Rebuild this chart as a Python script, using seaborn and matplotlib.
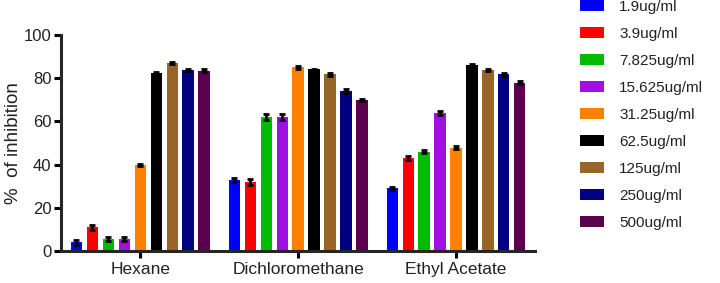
import numpy as np
import pandas as pd
import matplotlib
matplotlib.use("Agg")
import matplotlib.pyplot as plt
import seaborn as sns

solvents = ["Hexane", "Dichloromethane", "Ethyl Acetate"]
concs = ["1.9ug/ml", "3.9ug/ml", "7.825ug/ml", "15.625ug/ml", "31.25ug/ml",
         "62.5ug/ml", "125ug/ml", "250ug/ml", "500ug/ml"]
hexane = [4, 11, 5.5, 5.5, 40, 82.5, 87, 83.8, 83.6]
dichloromethane = [33, 32, 62, 62, 85, 84.1, 81.8, 74, 70]
ethyl_acetate = [29, 43, 46, 64, 47.8, 86, 83.8, 81.8, 78]
hexane_err = [1.0, 1.2, 1.0, 1.0, 0.5, 0.5, 0.5, 0.5, 0.6]
dichloromethane_err = [1.0, 1.5, 1.5, 1.5, 0.6, 0.4, 0.8, 1.0, 0.6]
ethyl_acetate_err = [0.8, 1.0, 0.6, 1.0, 0.7, 0.6, 0.4, 0.6, 0.6]
colors = ["#0000FF", "#FF0000", "#00BB00", "#A010E0", "#FF8000",
          "#000000", "#996428", "#000080", "#5C0050"]

values = [hexane, dichloromethane, ethyl_acetate]
errors = [hexane_err, dichloromethane_err, ethyl_acetate_err]
df = pd.DataFrame({
    "solvent": np.repeat(solvents, len(concs)),
    "conc": concs * len(solvents),
    "value": np.concatenate(values),
})

sns.set_style("ticks")
plt.rcParams["font.family"] = ["Liberation Sans", "DejaVu Sans"]

fig = plt.figure(figsize=(7.2, 2.83), dpi=100)
ax = fig.add_axes([0.085, 0.113, 0.658, 0.763])
sns.barplot(data=df, x="solvent", y="value", hue="conc", order=solvents,
            hue_order=concs, palette=colors, width=0.91, gap=0.3,
            errorbar=None, saturation=1, linewidth=0, ax=ax)

# error bars on top of each bar
for j, c in enumerate(concs):
    cont = ax.containers[j]
    xs = [p.get_x() + p.get_width() / 2 for p in cont]
    ys = [p.get_height() for p in cont]
    yerr = [errors[i][j] for i in range(len(solvents))]
    ax.errorbar(xs, ys, yerr=yerr, fmt="none", ecolor="black",
                elinewidth=2, capsize=2.5, capthick=2, zorder=5)

ax.set_ylim(0, 100)
ax.set_xlim(-0.5, 2.5)
ax.set_yticks([0, 20, 40, 60, 80, 100])
ax.set_xlabel("")
ax.set_ylabel("%  of inhibition", fontsize=13.5, color="#222222")
ax.yaxis.set_label_coords(-0.082, 0.5)
ax.tick_params(axis="y", labelsize=12, width=2.2, length=5, colors="black",
               labelcolor="#222222", pad=2)
ax.tick_params(axis="x", labelsize=12.5, width=2.2, length=5, colors="black",
               labelcolor="#222222", pad=3)
for s in ["top", "right"]:
    ax.spines[s].set_visible(False)
for s in ["left", "bottom"]:
    ax.spines[s].set_linewidth(2.2)

handles, labels = ax.get_legend_handles_labels()
ax.legend(handles, labels, loc="upper left", bbox_to_anchor=(0.805, 1.0),
          bbox_transform=fig.transFigure, frameon=False, fontsize=11,
          handlelength=1.6, handleheight=0.7, labelspacing=0.85,
          handletextpad=1.0, borderpad=0, borderaxespad=0,
          labelcolor="#222222")

fig.savefig("out.png", dpi=100)
